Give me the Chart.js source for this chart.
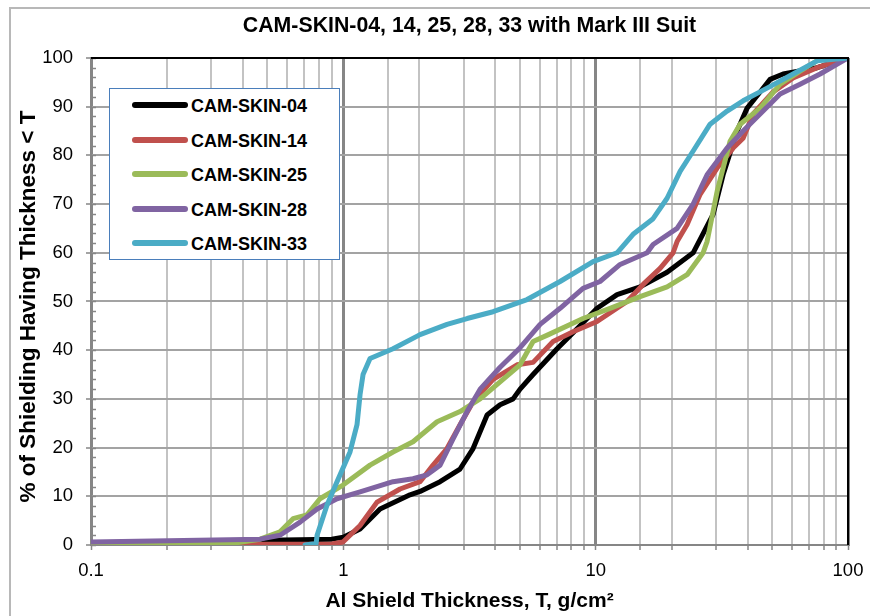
<!DOCTYPE html>
<html><head><meta charset="utf-8">
<script src="https://cdn.jsdelivr.net/npm/chart.js@4.4.1/dist/chart.umd.min.js"></script>
<style>
body{margin:0;background:#fff;overflow:hidden}
#wrap{position:relative;width:870px;height:616px;overflow:hidden}
#frame{position:absolute;left:9px;top:7px;width:900px;height:700px;border-left:2px solid #b8b8b8;border-top:2px solid #b8b8b8;pointer-events:none}
#legend{position:absolute;left:109px;top:88px;width:229px;height:170px;border:1px solid #4a7ebb;background:#fff;font-family:"Liberation Sans",Arial,sans-serif;font-weight:bold;font-size:18px;color:#000}
.row{position:absolute;left:0;height:20px;width:229px}
.sw{position:absolute;left:22px;top:7px;width:56px;height:6px;border-radius:3px}
.lb{position:absolute;left:81px;top:0;line-height:22px;white-space:nowrap}
</style></head>
<body><div id="wrap"><canvas id="c" width="870" height="616"></canvas><div id="frame"></div><div id="legend"></div></div>
<script>
const seriesNames = ['CAM-SKIN-04','CAM-SKIN-14','CAM-SKIN-25','CAM-SKIN-28','CAM-SKIN-33'];
const seriesColors = ['#000000','#c0504d','#9bbb59','#8064a2','#4bacc6'];
const xTickLabels = ['0.1','1','10','100'];
const yTickValues = [0,10,20,30,40,50,60,70,80,90,100];
const yTitleText = '% of Shielding Having Thickness < T';

const skin04X = [0.1,0.3,0.5,0.9,1.0,1.165,1.398,1.838,2.014,2.418,2.901,3.267,3.713,4.181,4.707,5.017,5.649,7.031,8.44,10.13,12.16,15.0,19.19,24.34,29.2,31.99,36.35,39.83,44.84,49.12,55.31,75.43,100];
const skin04Y = [0.3,0.6,1.0,1.2,1.6,3.3,7.4,10.3,11,13,15.6,19.8,26.7,28.8,30,32,35,40.3,44.4,48.6,51.4,53,56,60,67.9,76,85,89.7,93,95.6,96.7,98,100];

const skin14X = [0.1,0.9,0.997,1.165,1.36,1.678,2.014,2.268,2.576,2.901,3.267,3.922,4.882,5.649,6.781,8.137,10.13,13.32,15.42,18.0,20.27,21.02,23.04,25.94,30.29,35.05,38.39,42.07,50.48,60.59,75.43,100];
const skin14Y = [0.1,0.2,0.6,4,8.8,11.5,13,16.4,19.8,24.7,29.4,34,37,37.5,41.8,43.8,45.9,50,53.5,56.8,60,62.3,65.8,72,77.4,81.5,83.5,88.5,93,95.9,98,100];

const skin25X = [0.1,0.372,0.468,0.561,0.632,0.718,0.808,0.997,1.276,1.574,1.889,2.352,2.901,3.484,4.181,5.017,5.649,6.5,8.913,11.4,15.0,19.19,23.04,26.66,27.64,30.29,34.1,37.36,44.84,53.82,64.58,77.52,100];
const skin25Y = [0.2,0.4,1.2,2.7,5.4,6.2,9.5,12.3,16.4,19.1,21.2,25.3,27.4,30,33.5,37,41.8,43.2,46.5,48.6,51,53,55.5,60,62.3,72.6,82.9,86.4,89.7,94.6,97.3,99.8,100];

const skin28X = [0.1,0.468,0.561,0.674,0.787,0.944,1.165,1.574,1.889,2.147,2.418,2.722,3.093,3.484,4.181,5.017,6.022,7.227,8.913,10.4,12.5,15.99,16.89,21.02,24.34,27.64,33.18,38.39,44.84,53.82,64.58,77.52,100];
const skin28Y = [0.6,1.2,2,4.7,7.4,9.5,10.9,13,13.6,14.4,16.4,21.8,27.4,32,36.5,40.5,45.3,48.6,52.7,54.1,57.6,60,61.7,65,70,76,81.5,85,88.5,92.6,94.6,96.7,100];

const skin33X = [0.705,0.78,0.787,0.862,0.944,1.063,1.133,1.165,1.197,1.276,1.574,2.014,2.576,3.093,3.922,5.348,7.227,9.765,12.16,14.07,16.89,19.19,21.61,24.34,28.41,33.18,38.39,47.79,60.59,75.43,100];
const skin33Y = [0,0.3,2,8.2,13,19.1,24.7,30.9,35,38.3,40.3,43.2,45.3,46.5,47.9,50.4,54.1,58.2,60,63.8,67,71.2,76.7,80.9,86.4,89.1,91.2,93.8,96.7,99.4,100];

const allX = [skin04X, skin14X, skin25X, skin28X, skin33X];
const allY = [skin04Y, skin14Y, skin25Y, skin28Y, skin33Y];

const datasets = seriesNames.map((name, i) => ({
  label: name,
  data: allX[i].map((x, j) => ({x: x, y: allY[i][j]})),
  borderColor: seriesColors[i],
  backgroundColor: seriesColors[i],
  borderWidth: 5,
  pointRadius: 0,
  tension: 0,
  fill: false,
  borderCapStyle: 'round',
  borderJoinStyle: 'round',
  order: 5 - i
}));

function isDecade(v){ const l = Math.log10(v); return Math.abs(l - Math.round(l)) < 1e-6; }

const extras = {
  id: 'extras',
  beforeDatasetsDraw(chart){
    const {ctx, chartArea:a, scales:{y}} = chart;
    ctx.save();
    ctx.strokeStyle = '#868686';
    ctx.lineWidth = 1.5;
    for (let v = 0; v <= 100; v += 2){
      const py = Math.round(y.getPixelForValue(v)) + 0.5;
      ctx.beginPath(); ctx.moveTo(a.left, py); ctx.lineTo(a.left + 5, py); ctx.stroke();
    }
    ctx.restore();
  },
  afterDatasetsDraw(chart){
    const {ctx, chartArea:a} = chart;
    ctx.save();
    ctx.strokeStyle = '#000';
    ctx.lineWidth = 2;
    ctx.beginPath();
    ctx.moveTo(a.left, a.top); ctx.lineTo(a.right, a.top); ctx.lineTo(a.right, a.bottom);
    ctx.stroke();
    ctx.restore();
  },
  afterDraw(chart){
    const {ctx, chartArea:a} = chart;
    ctx.save();
    ctx.translate(29, (a.top + a.bottom) / 2 + 5);
    ctx.rotate(-Math.PI / 2);
    ctx.font = 'bold 22.5px "Liberation Sans", Arial, sans-serif';
    ctx.fillStyle = '#000';
    ctx.textAlign = 'center';
    ctx.textBaseline = 'middle';
    ctx.fillText(yTitleText, 0, 0);
    ctx.restore();
  }
};

const chart = new Chart(document.getElementById('c'), {
  type: 'line',
  data: { datasets },
  options: {
    responsive: false,
    devicePixelRatio: 1,
    animation: false,
    layout: { padding: { top: 0, right: 22, bottom: 0, left: 0 } },
    plugins: {
      legend: { display: false },
      tooltip: { enabled: false },
      title: {
        display: true,
        fullSize: false,
        text: 'CAM-SKIN-04, 14, 25, 28, 33 with Mark III Suit',
        color: '#000',
        font: { family: '"Liberation Sans", Arial, sans-serif', size: 21.3, weight: 'bold' },
        padding: { top: 13, bottom: 19.4 }
      }
    },
    scales: {
      x: {
        type: 'logarithmic',
        min: 0.1, max: 100,
        afterFit(s){ s.height = 71; s.paddingLeft = 0; s.paddingRight = 0; },
        border: { color: '#868686', width: 2 },
        grid: {
          color: c => isDecade(c.tick.value) ? '#868686' : '#c3c3c3',
          lineWidth: c => isDecade(c.tick.value) ? 3 : 2,
          tickColor: '#868686',
          tickWidth: 1.5,
          tickLength: 5
        },
        ticks: {
          autoSkip: false,
          maxRotation: 0,
          padding: 10,
          color: '#000',
          font: { family: '"Liberation Sans", Arial, sans-serif', size: 18.5 },
          callback: v => {
            if (!isDecade(v)) return '';
            const idx = Math.round(Math.log10(v)) + 1;
            return xTickLabels[idx];
          }
        },
        title: {
          display: true,
          text: 'Al Shield Thickness, T, g/cm²',
          color: '#000',
          font: { family: '"Liberation Sans", Arial, sans-serif', size: 21, weight: 'bold' },
          padding: { top: 0, bottom: 2 }
        }
      },
      y: {
        type: 'linear',
        min: 0, max: 100,
        afterFit(s){ s.width = 91; },
        afterBuildTicks(s){ s.ticks = yTickValues.map(v => ({value: v})); },
        border: { color: '#868686', width: 2 },
        grid: {
          color: '#a3a3a3',
          lineWidth: 2,
          tickColor: '#868686',
          tickWidth: 1.5,
          tickLength: 5
        },
        ticks: {
          padding: 13,
          color: '#000',
          font: { family: '"Liberation Sans", Arial, sans-serif', size: 18.5 }
        }
      }
    }
  },
  plugins: [extras]
});

const legendEl = document.getElementById('legend');
chart.data.datasets.forEach((ds, i) => {
  const row = document.createElement('div');
  row.className = 'row';
  row.style.top = (6 + i * 34.6) + 'px';
  const sw = document.createElement('div');
  sw.className = 'sw';
  sw.style.background = ds.borderColor;
  const lb = document.createElement('div');
  lb.className = 'lb';
  lb.textContent = ds.label;
  row.appendChild(sw); row.appendChild(lb);
  legendEl.appendChild(row);
});
</script>
</body></html>
